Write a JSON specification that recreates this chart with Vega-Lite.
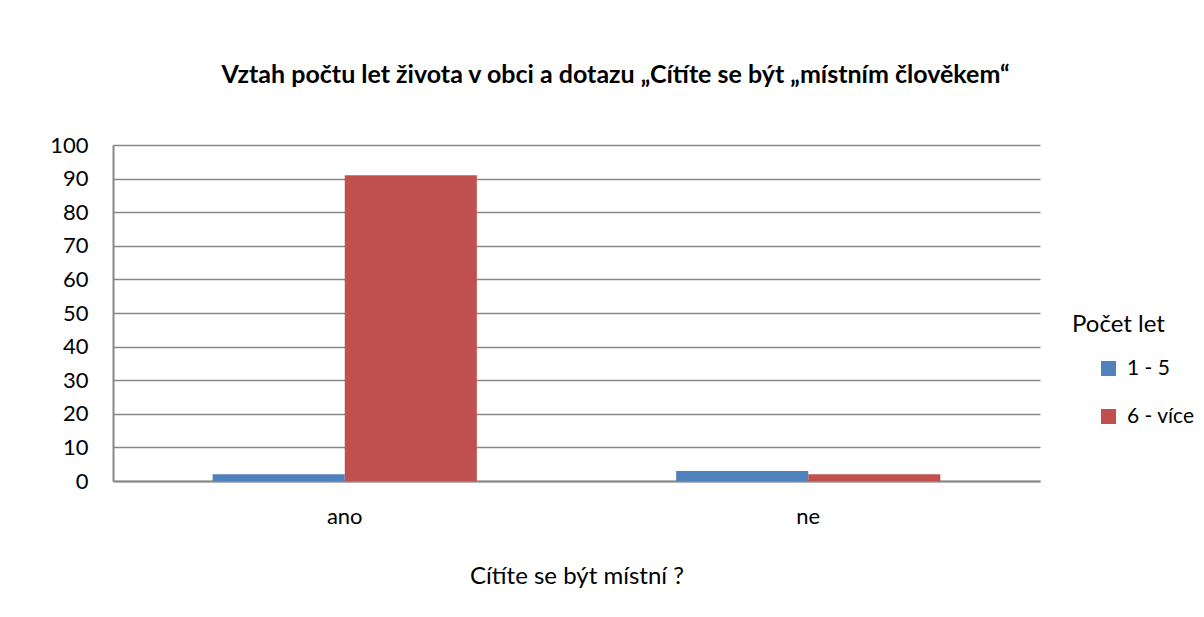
{
  "$schema": "https://vega.github.io/schema/vega-lite/v6.json",
  "autosize": {"type": "none"},
  "width": 927,
  "height": 336,
  "padding": {"left": 113, "top": 145, "right": 164, "bottom": 136},
  "background": "white",
  "title": {
    "text": "Vztah počtu let života v obci a dotazu „Cítíte se být „místním člověkem“",
    "font": "Lato",
    "fontSize": 25,
    "fontWeight": "bold",
    "color": "#000000",
    "anchor": "middle",
    "dx": 39,
    "offset": 46
  },
  "data": {
    "values": [
      {"cat": "ano", "group": "1 - 5", "value": 2},
      {"cat": "ano", "group": "6 - více", "value": 91},
      {"cat": "ne", "group": "1 - 5", "value": 3},
      {"cat": "ne", "group": "6 - více", "value": 2}
    ]
  },
  "mark": {"type": "bar"},
  "encoding": {
    "x": {
      "field": "cat",
      "type": "nominal",
      "scale": {"paddingInner": 0.43, "paddingOuter": 0.215},
      "axis": {
        "title": "Cítíte se být místní ?",
        "labelAngle": 0,
        "labelFont": "Lato",
        "labelFontSize": 22,
        "labelColor": "#000000",
        "labelPadding": 25,
        "ticks": false,
        "domainColor": "#888888",
        "domainWidth": 2,
        "titleFont": "Lato",
        "titleFontSize": 24,
        "titleFontWeight": "normal",
        "titleColor": "#000000",
        "titlePadding": 37
      }
    },
    "xOffset": {"field": "group", "type": "nominal"},
    "y": {
      "field": "value",
      "type": "quantitative",
      "scale": {"domain": [0, 100]},
      "axis": {
        "title": null,
        "values": [0, 10, 20, 30, 40, 50, 60, 70, 80, 90, 100],
        "labelFont": "Lato",
        "labelFontSize": 22,
        "labelColor": "#000000",
        "labelPadding": 25,
        "ticks": false,
        "domainColor": "#888888",
        "domainWidth": 2,
        "gridColor": "#888888",
        "gridWidth": 1.5
      }
    },
    "color": {
      "field": "group",
      "type": "nominal",
      "scale": {"domain": ["1 - 5", "6 - více"], "range": ["#4F81BD", "#C0504D"]},
      "legend": {
        "title": "Počet let",
        "orient": "none",
        "legendX": 959,
        "legendY": 168,
        "titleFont": "Lato",
        "titleFontSize": 24,
        "titleFontWeight": "normal",
        "titleColor": "#000000",
        "titlePadding": 21,
        "labelFont": "Lato",
        "labelFontSize": 21,
        "labelColor": "#000000",
        "symbolType": "square",
        "symbolSize": 225,
        "symbolStrokeWidth": 0,
        "symbolOffset": 26,
        "rowPadding": 26,
        "labelOffset": 8
      }
    }
  },
  "config": {
    "view": {"stroke": null}
  }
}
